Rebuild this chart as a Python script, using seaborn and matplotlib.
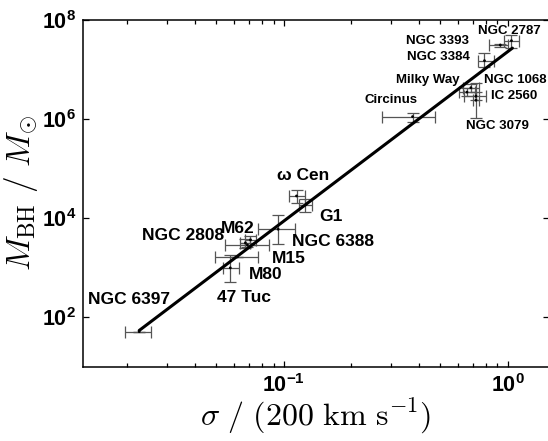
import numpy as np
import pandas as pd
import matplotlib
matplotlib.use("Agg")
import matplotlib.pyplot as plt
import matplotlib.ticker as mticker
import seaborn as sns

# ---- data (sigma in units of 200 km/s, M_BH in solar masses) ----
names = ["NGC 6397", "47 Tuc", "M80", "M15", "M62", "NGC 2808", "NGC 6388",
         "ω Cen", "G1", "Circinus", "Milky Way", "NGC 1068", "IC 2560",
         "NGC 3079", "NGC 3384", "NGC 3393", "NGC 2787"]
sigma    = [0.0226, 0.0577, 0.0621, 0.0688, 0.0710, 0.0674, 0.0944,
            0.114, 0.125, 0.376, 0.658, 0.685, 0.722, 0.722, 0.788, 0.927, 1.04]
sigma_lo = [0.0195, 0.0537, 0.0494, 0.0548, 0.0674, 0.0640, 0.0767,
            0.105, 0.1167, 0.276, 0.605, 0.631, 0.638, 0.700, 0.740, 0.828, 0.964]
sigma_hi = [0.0256, 0.0629, 0.0770, 0.0857, 0.0755, 0.0710, 0.112,
            0.124, 0.134, 0.474, 0.714, 0.745, 0.800, 0.745, 0.872, 1.000, 1.125]
mbh      = [51, 990, 1650, 2880, 3630, 3160, 5970,
            28000, 18500, 1.12e6, 3.5e6, 4.3e6, 2.9e6, 2.4e6, 1.51e7, 3.13e7, 3.82e7]
mbh_lo   = [51, 515, 1650, 2600, 2850, 2500, 2970,
            20300, 13500, 0.887e6, 2.93e6, 3.5e6, 2.4e6, 1.04e6, 1.14e7, 2.9e7, 2.69e7]
mbh_hi   = [51, 1810, 1650, 3200, 4380, 3800, 11600,
            37000, 24000, 1.31e6, 4.25e6, 5.1e6, 3.5e6, 5.36e6, 2.13e7, 3.35e7, 4.98e7]
is_cluster = [True] * 9 + [False] * 8

# fitted relation: log M = a + b log sigma
fit_a, fit_b = 7.36, 3.42
fit_range = [0.0226, 1.05]

# label offsets (points) and alignment
label_dx = [-36.5, -9.6, 8.1, 17.8, -21.6, -15.6, 10.1, -13.9, 9.6,
            -34.8, -5.5, 9.6, 10.8, -7.2, -10.8, -22.3, -23.8]
label_dy = [22.8, -21.4, -13.0, -10.1, 8.4, 5.0, -8.9, 14.4, -8.4,
            12.0, 8.6, 5.8, 0.0, -18.7, 2.9, 3.1, 7.2]
label_ha = ["left", "left", "left", "left", "left", "right", "left", "left", "left",
            "left", "right", "left", "left", "left", "right", "right", "left"]

df = pd.DataFrame(dict(name=names, sigma=sigma, slo=sigma_lo, shi=sigma_hi,
                       m=mbh, mlo=mbh_lo, mhi=mbh_hi))

sns.set_style("ticks")
plt.rcParams.update({
    "mathtext.fontset": "custom",
    "mathtext.rm": "Liberation Sans",
    "mathtext.bf": "Liberation Sans:bold",
    "mathtext.it": "Liberation Sans:italic",
    "font.family": ["Liberation Sans", "DejaVu Sans"],
    "text.color": "black",
    "axes.labelcolor": "black",
    "axes.edgecolor": "black",
    "xtick.color": "black",
    "ytick.color": "black",
})

fig = plt.figure(figsize=(5.48, 4.41), dpi=100)
ax = fig.add_axes([83 / 548, 74.3 / 441, 466 / 548, 346.7 / 441])

# fit line
xs = np.array(fit_range)
line_df = pd.DataFrame(dict(x=xs, y=10 ** (fit_a + fit_b * np.log10(xs))))
sns.lineplot(data=line_df, x="x", y="y", ax=ax, color="black", lw=2.2, zorder=3)

# error bars
xerr = np.array([df.sigma - df.slo, df.shi - df.sigma])
yerr = np.array([df.m - df.mlo, df.mhi - df.m])
ax.errorbar(df.sigma, df.m, xerr=xerr, yerr=yerr, fmt="none",
            ecolor="#555555", elinewidth=0.9, capsize=4, capthick=0.9, zorder=2)
sns.scatterplot(data=df, x="sigma", y="m", ax=ax, color="black", s=4,
                edgecolor="none", zorder=4, legend=False)

ax.set_xscale("log")
ax.set_yscale("log")
ax.set_xlim(0.01268, 1.53)
ax.set_ylim(10, 1e8)

# labels
for i, n in enumerate(names):
    ax.annotate(n, (sigma[i], mbh[i]), xytext=(label_dx[i], label_dy[i]),
                textcoords="offset points", ha=label_ha[i], va="center",
                fontsize=12.5 if is_cluster[i] else 9.5, fontweight="bold",
                color="black", annotation_clip=False)

# ticks
ax.yaxis.set_major_locator(mticker.FixedLocator([1e2, 1e4, 1e6, 1e8]))
ax.yaxis.set_minor_locator(mticker.NullLocator())
ax.xaxis.set_major_locator(mticker.LogLocator(base=10, numticks=10))
ax.xaxis.set_minor_locator(mticker.LogLocator(base=10, subs=np.arange(2, 10), numticks=20))
fmt = mticker.FuncFormatter(lambda v, p: r"$\mathbf{10^{%d}}$" % int(round(np.log10(v))))
ax.xaxis.set_major_formatter(fmt)
ax.yaxis.set_major_formatter(fmt)
ax.xaxis.set_minor_formatter(mticker.NullFormatter())
ax.tick_params(which="both", direction="in", top=True, right=True, width=0.9,
               labelsize=15.5, pad=5)
ax.tick_params(which="major", length=4.5)
ax.tick_params(which="minor", length=3)
for s in ax.spines.values():
    s.set_linewidth(1.1)

xl = ax.set_xlabel(r"$\sigma\ /\ (200\ \mathrm{km\ s}^{-1})$", fontsize=23, labelpad=0)
yl = ax.set_ylabel(r"$M_{\mathrm{BH}}\ /\ M_{\odot}$", fontsize=24, labelpad=1)
xl.set_math_fontfamily("cm")
yl.set_math_fontfamily("cm")

fig.savefig("out.png", dpi=100)
